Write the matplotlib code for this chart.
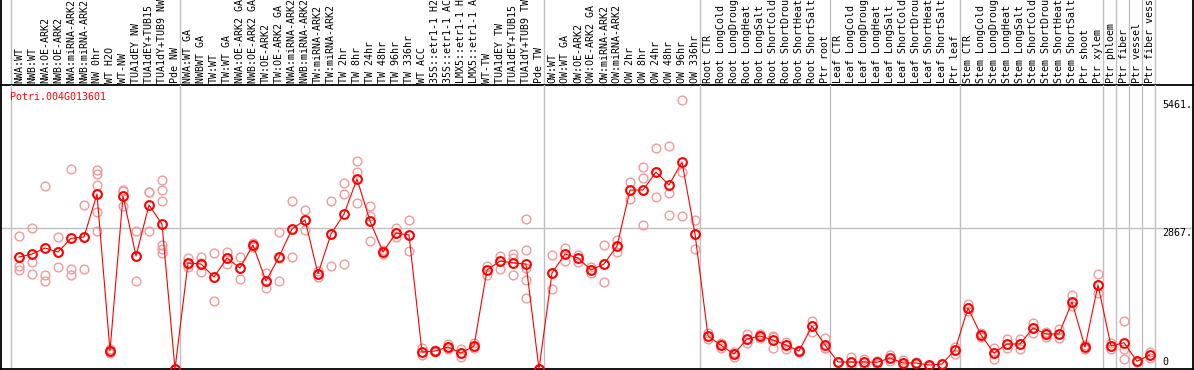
import matplotlib
matplotlib.use("Agg")
import matplotlib.pyplot as plt

# ---------------- data ----------------
title = "Potri.004G013601"

group1_labels = ["NWA:WT", "NWB:WT", "NWA:OE-ARK2", "NWB:OE-ARK2", "NWA:miRNA-ARK2",
                 "NWB:miRNA-ARK2", "NW 0hr", "WT H2O", "WT-NW", "TUA1dEY NW",
                 "TUA1dEY+TUB15 NW", "TUA1dY+TUB9 NW", "Pde NW"]
group2_labels = ["NWA:WT GA", "NWBWT GA", "TW:WT", "TW:WT GA", "NWA:OE-ARK2 GA",
                 "NWB:OE-ARK2 GA", "TW:OE-ARK2", "TW:OE-ARK2 GA", "NWA:miRNA-ARK2 GA",
                 "NWB:miRNA-ARK2 GA", "TW:miRNA-ARK2", "TW:miRNA-ARK2 GA", "TW 2hr",
                 "TW 8hr", "TW 24hr", "TW 48hr", "TW 96hr", "TW 336hr", "WT ACC",
                 "35S::etr1-1 H2O", "35S::etr1-1 ACC", "LMX5::etr1-1 H2O",
                 "LMX5::etr1-1 ACC", "WT-TW", "TUA1dEY TW", "TUA1dEY+TUB15 TW",
                 "TUA1dY+TUB9 TW", "Pde TW"]
group3_labels = ["OW:WT", "OW:WT GA", "OW:OE-ARK2", "OW:OE-ARK2 GA", "OW:miRNA-ARK2",
                 "OW:miRNA-ARK2 GA", "OW 2hr", "OW 8hr", "OW 24hr", "OW 48hr",
                 "OW 96hr", "OW 336hr"]
group4_labels = ["Root CTR", "Root LongCold", "Root LongDrought", "Root LongHeat",
                 "Root LongSalt", "Root ShortCold", "Root ShortDrought",
                 "Root ShortHeat", "Root ShortSalt", "Ptr root"]
group5_labels = ["Leaf CTR", "Leaf LongCold", "Leaf LongDrought", "Leaf LongHeat",
                 "Leaf LongSalt", "Leaf ShortCold", "Leaf ShortDrought",
                 "Leaf ShortHeat", "Leaf ShortSalt", "Ptr leaf"]
group6_labels = ["Stem CTR", "Stem LongCold", "Stem LongDrought", "Stem LongHeat",
                 "Stem LongSalt", "Stem ShortCold", "Stem ShortDrought",
                 "Stem ShortHeat", "Stem ShortSalt", "Ptr shoot", "Ptr xylem"]
group7_labels = ["Ptr phloem"]
group8_labels = ["Ptr fiber"]
group9_labels = ["Ptr vessel"]
group10_labels = ["Ptr fiber vessel"]

groups = [group1_labels, group2_labels, group3_labels, group4_labels, group5_labels,
          group6_labels, group7_labels, group8_labels, group9_labels, group10_labels]

mean_values = [
    2277, 2338, 2460, 2379, 2657, 2684, 3558, 366, 3517, 2297, 3334, 2948, 0,
    2155, 2135, 1870, 2257, 2053, 2521, 1789, 2277, 2846, 3029, 1937, 2745, 3151,
    3863, 3009, 2379, 2765, 2724, 346, 366, 447, 325, 468, 2013, 2196, 2155, 2135, 0,
    1952, 2338, 2257, 2013, 2135, 2501, 3639, 3639, 4005, 3741, 4208, 2745,
    671, 482, 305, 610, 671, 590, 488, 366, 874, 488,
    142, 142, 142, 136, 224, 122, 122, 81, 102, 386,
    1240, 691, 325, 508, 508, 834, 712, 712, 1362, 447, 1708,
    468, 535, 157, 285]

replicate_values = [
    [2704, 2100, 2013], [2873, 2181, 1931], [3714, 1911, 1789], [2684, 2074, 2379],
    [4066, 2033, 1911], [3334, 2027, 2691], [4046, 3964, 3741, 3192, 2806],
    [366, 325, 400], [3639, 3619, 3314], [2806, 1789, 2297], [3598, 3598, 2806],
    [3842, 3639, 3415, 2521, 2440, 2358], [0, 0, 0],
    [2257, 2080, 2135], [2277, 1972, 2155], [2358, 1382, 1870], [2379, 2135, 2257],
    [2277, 1830, 2053], [2562, 2521, 2480], [1952, 1647, 1789], [2785, 1789, 2257],
    [3415, 2277, 2846], [3232, 2826, 3029], [1876, 1937, 2000], [3415, 2094, 2745],
    [3781, 3558, 2135], [4229, 4005, 3375], [3314, 3110, 2602], [2419, 2379, 2338],
    [2867, 2684, 2765], [3029, 2399, 2724], [433, 285, 346], [366, 350, 380],
    [502, 447, 400], [250, 325, 400], [522, 421, 468], [2094, 1911, 2013],
    [2297, 2033, 2196], [2338, 2257, 1911], [3050, 2419, 2053, 1809, 1443], [0, 0, 0],
    [2318, 1626, 1952], [2460, 2196, 2338], [2318, 2175, 2257], [2067, 1958, 2013],
    [2521, 1769, 2135], [2623, 2379, 2501], [3802, 3456, 3639], [4107, 3883, 2928],
    [4493, 3497, 4005], [4534, 3578, 3131], [5461, 4005, 3110], [3029, 2440, 2745],
    [726, 671, 620], [522, 433, 482], [352, 250, 305], [712, 522, 600],
    [624, 671, 720], [657, 433, 680], [543, 400, 488], [366, 340, 390],
    [982, 758, 874], [624, 421, 419],
    [142, 150, 135], [250, 61, 142], [197, 142, 90], [169, 136, 100],
    [285, 224, 165], [183, 75, 122], [122, 110, 135], [81, 70, 90],
    [102, 95, 110], [453, 299, 386],
    [1328, 1185, 1240], [726, 691, 660], [421, 197, 325], [610, 421, 508],
    [604, 407, 508], [941, 732, 834], [758, 657, 712], [813, 712, 640],
    [1504, 1281, 1362], [447, 400, 490], [1931, 1545, 1708],
    [468, 400, 530], [982, 400, 197], [157, 150, 165], [352, 218, 285]]

y_tick_values = [5461, 2867, 0]
y_tick_labels = ["5461.", "2867.", "0"]

# ---------------- layout ----------------
W, H = 1194, 370
fig = plt.figure(figsize=(W / 100, H / 100), dpi=100)
fig.patch.set_facecolor("white")

mono = "DejaVu Sans Mono"
fs = 7.2
grid_c = "#c0c0c0"
rep_c = "#f09a9a"
red = "#ff0000"

labels = [lab for g in groups for lab in g]
xs = list(range(len(labels)))

# pixel geometry: point i at px 19 + 13*i
x_left = (1 - 19) / 13
x_right = (1193 - 19) / 13
top_px, bot_px = 85, 369
ymax = (bot_px - top_px) * 2867 / (bot_px - 228)

ax_h = fig.add_axes([1 / W, 1 - 85 / H, 1192 / W, 85 / H])
ax = fig.add_axes([1 / W, 1 - bot_px / H, 1192 / W, (bot_px - top_px) / H])

for a in (ax_h, ax):
    a.set_xlim(x_left, x_right)
    a.set_xticks([])
    a.set_yticks([])
    a.set_facecolor("none")
    for s in a.spines.values():
        s.set_color("black")
        s.set_linewidth(1.3)
ax_h.spines["top"].set_visible(False)
ax_h.set_ylim(0, 1)
ax.spines["top"].set_visible(False)
ax.set_ylim(0, ymax)

# group boundaries
bounds = []
k = 0
for g in groups:
    bounds.append(k)
    k += len(g)
bounds.append(k)
for b in bounds:
    xb = b - 8 / 13
    ax_h.axvline(xb, color=grid_c, lw=1.0, zorder=0)
    ax.axvline(xb, color=grid_c, lw=1.0, zorder=0)

# horizontal grid at middle tick
ax.axhline(y_tick_values[1], color=grid_c, lw=1.0, zorder=0)

# header labels
for x, lab in zip(xs, labels):
    ax_h.text(x, 2 / 85, lab, rotation=90, ha="center", va="bottom",
              family=mono, fontsize=fs, color="black")

# replicates
for x, reps in zip(xs, replicate_values):
    ax.plot([x] * len(reps), reps, linestyle="none", marker="o", ms=6.3,
            mfc="none", mec=rep_c, mew=1.0, zorder=2, clip_on=False)

# mean line
ax.plot(xs, mean_values, color=red, lw=0.8, marker="o", ms=6.3, mfc="none",
        mec=red, mew=1.5, zorder=3, clip_on=False)

# title
ax.text(9 / 1192, (bot_px - 97) / (bot_px - top_px), title, transform=ax.transAxes,
        ha="left", va="center", family=mono, fontsize=fs, color=red)

# right value labels
xl = (1162 - 19) / 13
ax.text(xl, y_tick_values[0], y_tick_labels[0], ha="left", va="top",
        family=mono, fontsize=fs, color="black")
ax.text(xl, y_tick_values[1], y_tick_labels[1], ha="left", va="top",
        family=mono, fontsize=fs, color="black")
ax.text(xl, (bot_px - 362) * 2867 / (bot_px - 228), y_tick_labels[2], ha="left",
        va="center", family=mono, fontsize=fs, color="black")

fig.savefig("out.png", dpi=100)
